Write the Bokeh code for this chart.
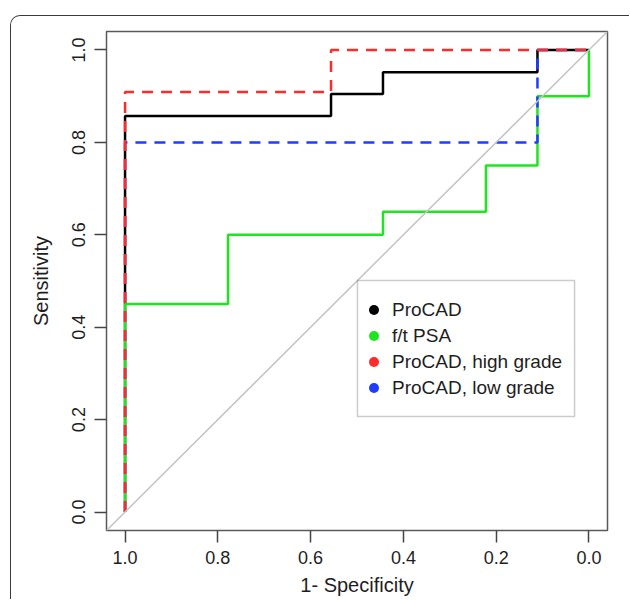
import numpy as np
from bokeh.plotting import figure
from bokeh.models import (Range1d, Slope, Legend, LegendItem, BoxAnnotation,
                          FixedTicker)
from bokeh.embed import file_html
from bokeh.resources import INLINE

# ROC curves (x = specificity, shown on a reversed axis; y = sensitivity)
procad_spec = [1.0, 1.0, 0.556, 0.556, 0.444, 0.444, 0.111, 0.111, 0.0]
procad_sens = [0.0, 0.857, 0.857, 0.905, 0.905, 0.952, 0.952, 1.0, 1.0]

psa_spec = [1.0, 1.0, 0.778, 0.778, 0.444, 0.444, 0.222, 0.222, 0.111, 0.111, 0.0, 0.0]
psa_sens = [0.0, 0.45, 0.45, 0.60, 0.60, 0.65, 0.65, 0.75, 0.75, 0.90, 0.90, 1.0]

high_spec = [1.0, 1.0, 0.556, 0.556, 0.0]
high_sens = [0.0, 0.909, 0.909, 1.0, 1.0]

low_spec = [1.0, 1.0, 0.111, 0.111, 0.0]
low_sens = [0.0, 0.80, 0.80, 1.0, 1.0]

legend_labels = ["ProCAD", "f/t PSA", "ProCAD, high grade", "ProCAD, low grade"]
ticks = [0.0, 0.2, 0.4, 0.6, 0.8, 1.0]
tick_labels = ["0.0", "0.2", "0.4", "0.6", "0.8", "1.0"]

FONT = "Liberation Sans"
TXT = "#1e1e1e"
BLACK, GREEN, RED, BLUE = "#000000", "#1ee61e", "#ff2a2a", "#1f3cff"

p = figure(width=619, height=584,
           x_range=Range1d(1.04, -0.04), y_range=Range1d(-0.04, 1.04),
           output_backend="svg", toolbar_location=None,
           min_border_left=95, min_border_right=23,
           min_border_top=15, min_border_bottom=70,
           x_axis_label="1- Specificity", y_axis_label="Sensitivity")
p.styles = {"margin-top": "15px", "margin-left": "10px",
            "border-top": "1px solid #3a3a3a", "border-left": "1px solid #3a3a3a",
            "border-top-left-radius": "10px", "overflow": "hidden"}
p.grid.visible = False
p.outline_line_color = "#5a5a5a"
p.outline_line_width = 1.5
p.background_fill_color = "white"
p.border_fill_color = "white"

for ax in (p.xaxis[0], p.yaxis[0]):
    ax.ticker = FixedTicker(ticks=ticks)
    ax.major_label_overrides = {t: l for t, l in zip(ticks, tick_labels)}
    ax.axis_line_color = None
    ax.major_tick_in = 0
    ax.major_tick_out = 12
    ax.major_tick_line_color = "#444444"
    ax.major_tick_line_width = 1.5
    ax.minor_tick_line_color = None
    ax.major_label_text_font = FONT
    ax.major_label_text_font_size = "18px"
    ax.major_label_text_color = TXT
    ax.axis_label_text_font = FONT
    ax.axis_label_text_font_size = "20px"
    ax.axis_label_text_font_style = "normal"
    ax.axis_label_text_color = TXT
p.yaxis[0].major_label_orientation = "parallel"
p.xaxis[0].major_label_standoff = 8
p.yaxis[0].major_label_standoff = 9
p.xaxis[0].axis_label_standoff = 7
p.yaxis[0].axis_label_standoff = 18

# identity line
p.add_layout(Slope(gradient=-1, y_intercept=1, line_color="#c4c4c4", line_width=1.5))

p.line(procad_spec, procad_sens, line_color=BLACK, line_width=2.5)
p.line(psa_spec, psa_sens, line_color=GREEN, line_width=2.5)
p.line(low_spec, low_sens, line_color=BLUE, line_width=2.5, line_dash="11 8")
p.line(high_spec, high_sens, line_color=RED, line_width=2.5, line_dash="11 8")

# legend frame
p.add_layout(BoxAnnotation(left=0.499, right=0.031, top=0.501, bottom=0.207,
                           fill_alpha=0, line_color="#555555", line_width=1.5))

items = []
for lab, col in zip(legend_labels, [BLACK, GREEN, RED, BLUE]):
    r = p.scatter(x=[np.nan], y=[np.nan], size=10, fill_color=col, line_color=None)
    items.append(LegendItem(label=lab, renderers=[r]))
legend = Legend(items=items, location=(255, 130), padding=0, margin=0, spacing=1,
                glyph_width=25, glyph_height=25, label_height=25, label_standoff=6,
                border_line_alpha=0, background_fill_alpha=0,
                label_text_font=FONT, label_text_font_size="19px",
                label_text_color=TXT)
p.add_layout(legend)

open("out.html", "w").write(file_html(p, INLINE))
